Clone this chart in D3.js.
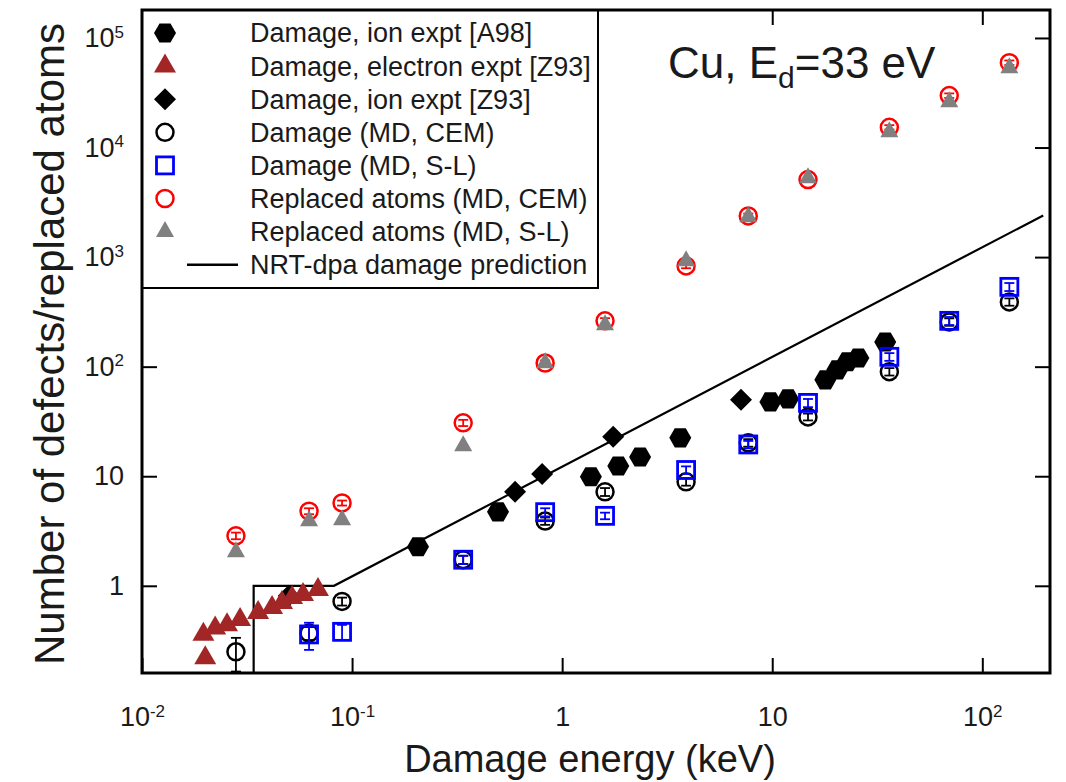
<!DOCTYPE html>
<html>
<head>
<meta charset="utf-8">
<script src="https://cdn.jsdelivr.net/npm/d3@7"></script>
<style>
  body { margin: 0; background: #fff; }
  text { font-family: "Liberation Sans", Arial, sans-serif; fill: #1a1a1a; }
</style>
</head>
<body>
<svg id="chart" width="1066" height="782"></svg>
<script>
// === DATA ===
// Damage, ion expt [A98]
const a98E = [0.206, 0.495, 1.37, 1.85, 2.35, 3.65, 9.8, 11.9, 17.9, 20.4, 22.8, 25.7, 34.5];
const a98N = [2.27, 4.73, 9.9, 12.4, 15, 22.4, 47.7, 50.8, 75.8, 93.5, 111, 120, 168];
// Damage, electron expt [Z93]
const z93eE = [0.0200, 0.0196, 0.0223, 0.0254, 0.0293, 0.0357, 0.0416, 0.0464, 0.0518, 0.0584, 0.0688];
const z93eN = [0.22, 0.36, 0.41, 0.44, 0.49, 0.57, 0.63, 0.70, 0.78, 0.83, 0.92];
// Damage, ion expt [Z93]
const z93iE = [0.050, 0.597, 0.803, 1.75, 7.1];
const z93iN = [0.81, 7.2, 10.5, 22.9, 49.8];
// MD, CEM potential
const cemE = [0.028, 0.0624, 0.0896, 0.338, 0.83, 1.6, 3.89, 7.69, 14.8, 36.1, 69.6, 134.5];
const cemDamage = [0.25, 0.37, 0.72, 1.73, 3.9, 7.2, 8.9, 20.2, 34.8, 90, 256, 390];
const cemDamageErr = [0.085, 0.05, 0.06, 0.15, 0.3, 0.6, 0.7, 1.6, 2.5, 7, 20, 30];
const cemReplaced = [2.86, 4.8, 5.7, 30.7, 108, 262, 831, 2377, 5100, 15300, 29800, 59500];
const cemReplacedErr = [0.2, 0.3, 0.3, 2, 6, 15, 40, 120, 250, 700, 1400, 2800];
// MD, S-L potential
const slE = [0.0624, 0.0896, 0.338, 0.83, 1.6, 3.89, 7.69, 14.8, 36.1, 69.6, 134.5];
const slDamage = [0.36, 0.38, 1.73, 4.7, 4.35, 11.4, 19.5, 46.7, 123, 262, 535];
const slDamageErr = [0.1, 0.06, 0.15, 0.4, 0.3, 0.9, 1.5, 4, 10, 22, 45];
const slReplacedE = [0.028, 0.0624, 0.0896, 0.338, 0.83, 1.6, 3.89, 7.69, 14.8, 36.1, 69.6, 134.5];
const slReplaced = [2.04, 3.9, 4.0, 18.9, 108, 240, 923, 2330, 5280, 13900, 26100, 53200];
// NRT-dpa prediction (corner points)
const nrtE = [0.034, 0.034, 0.082, 195];
const nrtN = [0.16, 1, 1, 2400];

// axes
const xTicks = [0.01, 0.1, 1, 10, 100];
const xTickLabels = ["10^-2", "10^-1", "1", "10", "10^2"];
const yTicks = [1, 10, 100, 1000, 10000, 100000];
const yTickLabels = ["1", "10", "10^2", "10^3", "10^4", "10^5"];

const legendLabels = [
  "Damage, ion expt [A98]",
  "Damage, electron expt [Z93]",
  "Damage, ion expt [Z93]",
  "Damage (MD, CEM)",
  "Damage (MD, S-L)",
  "Replaced atoms (MD, CEM)",
  "Replaced atoms (MD, S-L)",
  "NRT-dpa damage prediction"
];

// === SETUP ===
const svg = d3.select("#chart");
const plotLeft = 142, plotRight = 1050, plotTop = 10, plotBottom = 673;

const x = d3.scaleLog().domain([0.01, 210]).range([plotLeft, plotRight]);
const y = d3.scaleLog().domain([0.16, 1.8e5]).range([plotBottom, plotTop]);

// write "10^-2" style labels as text + superscript
function setPowerLabel(sel, label, supSize) {
  sel.text(null);
  const parts = label.split("^");
  sel.append("tspan").text(parts[0]);
  if (parts.length > 1) {
    sel.append("tspan").attr("dy", "-0.55em").attr("font-size", supSize).text(parts[1]);
  }
}

// === MARKER SHAPES ===
function hexPath(r) {
  const pts = d3.range(6).map(k => [r * Math.cos(k * Math.PI / 3), r * Math.sin(k * Math.PI / 3)]);
  return "M" + pts.join("L") + "Z";
}
function triPath(w, h) {
  return "M0," + (-2 * h / 3) + "L" + (w / 2) + "," + (h / 3) + "L" + (-w / 2) + "," + (h / 3) + "Z";
}
function diamondPath(r) {
  return "M0," + (-r) + "L" + r + ",0L0," + r + "L" + (-r) + ",0Z";
}

function drawMarker(g, type, px, py) {
  if (type === "hex") {
    g.append("path").attr("d", hexPath(11)).attr("transform", `translate(${px},${py})`).attr("fill", "#000");
  } else if (type === "redTri") {
    g.append("path").attr("d", triPath(22, 19)).attr("transform", `translate(${px},${py})`).attr("fill", "#a32626");
  } else if (type === "diamond") {
    g.append("path").attr("d", diamondPath(11)).attr("transform", `translate(${px},${py})`).attr("fill", "#000");
  } else if (type === "blackCircle") {
    g.append("circle").attr("cx", px).attr("cy", py).attr("r", 8.5)
      .attr("fill", "none").attr("stroke", "#000").attr("stroke-width", 2.5);
  } else if (type === "blueSquare") {
    g.append("rect").attr("x", px - 8.5).attr("y", py - 8.5).attr("width", 17).attr("height", 17)
      .attr("fill", "none").attr("stroke", "#0000ff").attr("stroke-width", 2.8);
  } else if (type === "redCircle") {
    g.append("circle").attr("cx", px).attr("cy", py).attr("r", 8.5)
      .attr("fill", "none").attr("stroke", "#ff0000").attr("stroke-width", 2.5);
  } else if (type === "grayTri") {
    g.append("path").attr("d", triPath(18, 16)).attr("transform", `translate(${px},${py})`).attr("fill", "#808080");
  }
}

function drawErrorBars(g, xs, ys, errs, color) {
  xs.forEach((e, i) => {
    const px = x(e);
    const y0 = y(ys[i] - errs[i]), y1 = y(ys[i] + errs[i]);
    g.append("line").attr("x1", px).attr("x2", px).attr("y1", y0).attr("y2", y1)
      .attr("stroke", color).attr("stroke-width", 1.8);
    [y0, y1].forEach(yy => {
      g.append("line").attr("x1", px - 5).attr("x2", px + 5).attr("y1", yy).attr("y2", yy)
        .attr("stroke", color).attr("stroke-width", 1.8);
    });
  });
}

function drawSeries(g, type, xs, ys) {
  xs.forEach((e, i) => drawMarker(g, type, x(e), y(ys[i])));
}

// === AXES (ticks point inward, mirrored) ===
const xAxis = svg.append("g").attr("transform", `translate(0,${plotBottom})`)
  .call(d3.axisBottom(x).tickValues(xTicks).tickSize(-15).tickPadding(34));
xAxis.selectAll("text").attr("font-size", 27).each(function(d, i) {
  setPowerLabel(d3.select(this), xTickLabels[i], 17);
});
svg.append("g").attr("transform", `translate(0,${plotTop})`)
  .call(d3.axisTop(x).tickValues(xTicks).tickSize(-15).tickFormat(""));

const yAxis = svg.append("g").attr("transform", `translate(${plotLeft},0)`)
  .call(d3.axisLeft(y).tickValues(yTicks).tickSize(-15).tickPadding(18));
yAxis.selectAll("text").attr("font-size", 27).each(function(d, i) {
  setPowerLabel(d3.select(this), yTickLabels[i], 17);
});
svg.append("g").attr("transform", `translate(${plotRight},0)`)
  .call(d3.axisRight(y).tickValues(yTicks).tickSize(-15).tickFormat(""));

svg.selectAll(".domain").remove();
svg.selectAll(".tick line").attr("stroke", "#000").attr("stroke-width", 2);
svg.selectAll(".tick text").attr("fill", "#1a1a1a");

// axis titles
svg.append("text").attr("x", 590).attr("y", 772).attr("text-anchor", "middle")
  .attr("font-size", 38).text("Damage energy (keV)");
svg.append("text").attr("transform", "translate(64,344) rotate(-90)").attr("text-anchor", "middle")
  .attr("font-size", 42).text("Number of defects/replaced atoms");

// === PLOT CONTENT ===
const plot = svg.append("g");
plot.append("defs").append("clipPath").attr("id", "clip")
  .append("rect").attr("x", plotLeft).attr("y", plotTop).attr("width", plotRight - plotLeft).attr("height", plotBottom - plotTop);

const nrtLine = d3.line().x((d, i) => x(nrtE[i])).y((d, i) => y(nrtN[i]));
plot.append("path").attr("d", nrtLine(nrtE)).attr("clip-path", "url(#clip)")
  .attr("fill", "none").attr("stroke", "#000").attr("stroke-width", 2.2);

drawSeries(plot, "hex", a98E, a98N);
drawSeries(plot, "diamond", z93iE, z93iN);
drawSeries(plot, "redTri", z93eE, z93eN);
drawErrorBars(plot, cemE, cemDamage, cemDamageErr, "#000");
drawSeries(plot, "blackCircle", cemE, cemDamage);
drawErrorBars(plot, slE, slDamage, slDamageErr, "#0000ff");
drawSeries(plot, "blueSquare", slE, slDamage);
drawErrorBars(plot, cemE, cemReplaced, cemReplacedErr, "#ff0000");
drawSeries(plot, "redCircle", cemE, cemReplaced);
drawSeries(plot, "grayTri", slReplacedE, slReplaced);

// === LEGEND ===
const legend = svg.append("g");
legend.append("rect").attr("x", plotLeft).attr("y", plotTop).attr("width", 456).attr("height", 278)
  .attr("fill", "#fff").attr("stroke", "#000").attr("stroke-width", 2);
const legendTypes = ["hex", "redTri", "diamond", "blackCircle", "blueSquare", "redCircle", "grayTri", "line"];
legendLabels.forEach((lab, i) => {
  const ly = 33 + i * 33.1;
  if (legendTypes[i] === "line") {
    legend.append("line").attr("x1", 187).attr("x2", 238).attr("y1", ly).attr("y2", ly)
      .attr("stroke", "#000").attr("stroke-width", 2.5);
  } else {
    drawMarker(legend, legendTypes[i], 165, ly);
  }
  legend.append("text").attr("x", 250).attr("y", ly).attr("dy", "0.35em")
    .attr("font-size", 27).text(lab);
});

// annotation
const note = svg.append("text").attr("x", 668).attr("y", 78).attr("font-size", 44);
note.append("tspan").text("Cu, E");
note.append("tspan").attr("dy", 10).attr("font-size", 30).text("d");
note.append("tspan").attr("dy", -10).text("=33 eV");

// frame
svg.append("rect").attr("x", plotLeft).attr("y", plotTop).attr("width", plotRight - plotLeft).attr("height", plotBottom - plotTop)
  .attr("fill", "none").attr("stroke", "#000").attr("stroke-width", 3);
</script>
</body>
</html>
